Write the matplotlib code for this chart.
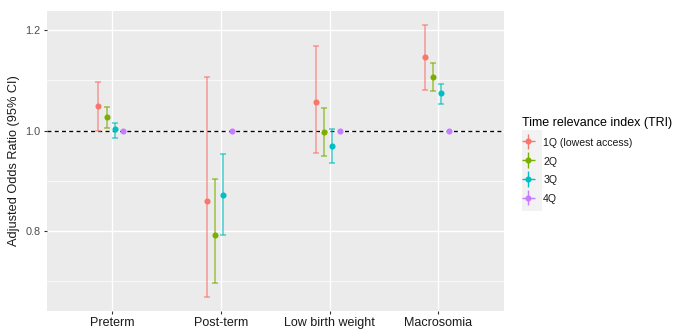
import numpy as np
import matplotlib
matplotlib.use("Agg")
import matplotlib.pyplot as plt
from matplotlib.legend_handler import HandlerErrorbar
from matplotlib.patches import Rectangle

plt.rcParams['font.family'] = ['Liberation Sans', 'DejaVu Sans']

categories = ["Preterm", "Post-term", "Low birth weight", "Macrosomia"]
groups = ["1Q (lowest access)", "2Q", "3Q", "4Q"]
colors = ["#F8766D", "#7CAE00", "#00BFC4", "#C77CFF"]

# estimates and 95% CI per group x category
est = {
    "1Q (lowest access)": [1.049, 0.860, 1.058, 1.146],
    "2Q": [1.027, 0.793, 0.997, 1.107],
    "3Q": [1.003, 0.872, 0.970, 1.075],
    "4Q": [1.000, 1.000, 1.000, 1.000],
}
lower = {
    "1Q (lowest access)": [1.000, 0.668, 0.955, 1.081],
    "2Q": [1.005, 0.696, 0.950, 1.079],
    "3Q": [0.986, 0.792, 0.935, 1.053],
    "4Q": [1.000, 1.000, 1.000, 1.000],
}
upper = {
    "1Q (lowest access)": [1.098, 1.106, 1.168, 1.211],
    "2Q": [1.048, 0.904, 1.045, 1.135],
    "3Q": [1.016, 0.954, 1.003, 1.094],
    "4Q": [1.000, 1.000, 1.000, 1.000],
}

fig = plt.figure(figsize=(6.73, 3.31), dpi=100)
ax = fig.add_axes([0.0698, 0.0604, 0.6786, 0.9073])
ax.set_facecolor("#EBEBEB")

x = np.arange(len(categories)) + 1
dodge = 0.3
n = len(groups)
for i, g in enumerate(groups):
    off = -dodge / 2 + dodge / n * (i + 0.5) - 0.015
    xs = x + off
    e = np.array(est[g]); lo = np.array(lower[g]); hi = np.array(upper[g])
    if g != "4Q":
        ax.errorbar(xs, e, yerr=[e - lo, hi - e], fmt="none", ecolor=colors[i],
                    alpha=0.7, elinewidth=1.1, capsize=2.4, capthick=1.1, zorder=3)
    ax.plot(xs, e, "o", color=colors[i], markersize=4.4, zorder=4, markeredgewidth=0)

ax.axhline(1.0, color="black", linestyle=(0, (3, 2.5)), linewidth=0.95, zorder=2)

ax.set_xlim(0.4, 4.6)
ax.set_ylim(0.641, 1.239)
ax.set_xticks(x)
ax.set_xticklabels(categories, fontsize=9, color="#1A1A1A")
ax.set_yticks([0.8, 1.0, 1.2])
ax.set_yticklabels(["0.8", "1.0", "1.2"], fontsize=7.8, color="#4D4D4D")
ax.set_yticks([0.7, 0.9, 1.1], minor=True)
ax.tick_params(axis="both", which="major", length=2.5, width=0.8, color="#333333", pad=2)
ax.tick_params(axis="y", which="minor", length=0)
ax.grid(True, which="major", color="white", linewidth=1.0, zorder=0)
ax.grid(True, which="minor", axis="y", color="white", linewidth=0.5, zorder=0)
ax.set_axisbelow(True)
for s in ax.spines.values():
    s.set_visible(False)
ax.set_ylabel("Adjusted Odds Ratio (95% CI)", fontsize=9.2, color="#1A1A1A", labelpad=4)

# legend
handles = []
for i, g in enumerate(groups):
    h = ax.errorbar([np.nan], [np.nan], xerr=[0.1], yerr=[0.1], fmt="o",
                    color=colors[i], ecolor=colors[i], markersize=4.4,
                    elinewidth=1.0, markeredgewidth=0)
    handles.append(h)
fig.patches.append(Rectangle((521.7 / 673, 1 - 211 / 331), 20.6 / 673, 81 / 331,
                             transform=fig.transFigure, facecolor="#F2F2F2",
                             edgecolor="none", zorder=1))
leg = fig.legend(handles, groups, loc="upper left", bbox_to_anchor=(0.764, 0.668),
                 frameon=False, fontsize=7.6, title="Time relevance index (TRI)",
                 title_fontsize=9, handlelength=1.3, handleheight=1.2,
                 handletextpad=0.75, labelspacing=0.73, borderpad=0.2,
                 handler_map={type(handles[0]): HandlerErrorbar(xerr_size=0.6, yerr_size=0.75)})
leg._legend_box.align = "left"
leg.set_zorder(5)
for t in leg.get_texts():
    t.set_color("#1A1A1A")

fig.savefig("out.png", dpi=100)
